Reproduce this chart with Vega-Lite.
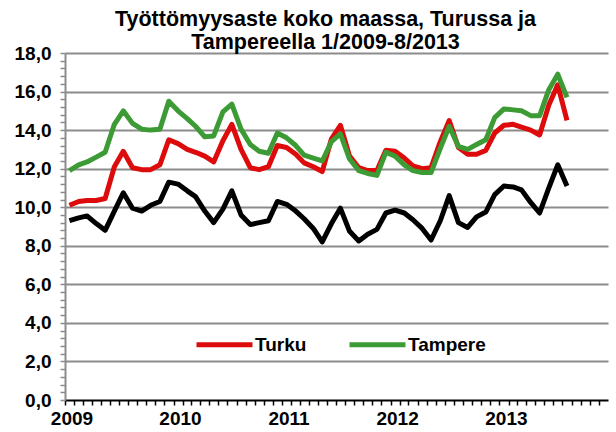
{
  "$schema": "https://vega.github.io/schema/vega-lite/v6.json",
  "width": 543,
  "height": 347,
  "autosize": "none",
  "padding": {"left": 65, "top": 53, "right": 8, "bottom": 32},
  "background": "white",
  "title": {
    "text": ["Työttömyysaste koko maassa, Turussa ja", "Tampereella 1/2009-8/2013"],
    "font": "Liberation Sans",
    "fontSize": 21.5,
    "fontWeight": "bold",
    "color": "black",
    "anchor": "middle",
    "frame": "group",
    "dx": -11,
    "offset": -9,
    "lineHeight": 23
  },
  "data": {
    "values": [
      {"kuukausi": "2009-01", "Koko maa": 9.3, "Turku": 10.1, "Tampere": 11.9},
      {"kuukausi": "2009-02", "Koko maa": 9.45, "Turku": 10.3, "Tampere": 12.2},
      {"kuukausi": "2009-03", "Koko maa": 9.55, "Turku": 10.35, "Tampere": 12.35},
      {"kuukausi": "2009-04", "Koko maa": 9.15, "Turku": 10.35, "Tampere": 12.6},
      {"kuukausi": "2009-05", "Koko maa": 8.8, "Turku": 10.45, "Tampere": 12.85},
      {"kuukausi": "2009-06", "Koko maa": 9.8, "Turku": 12.1, "Tampere": 14.3},
      {"kuukausi": "2009-07", "Koko maa": 10.75, "Turku": 12.9, "Tampere": 15.0},
      {"kuukausi": "2009-08", "Koko maa": 9.95, "Turku": 12.05, "Tampere": 14.35},
      {"kuukausi": "2009-09", "Koko maa": 9.8, "Turku": 11.95, "Tampere": 14.05},
      {"kuukausi": "2009-10", "Koko maa": 10.1, "Turku": 11.95, "Tampere": 14.0},
      {"kuukausi": "2009-11", "Koko maa": 10.3, "Turku": 12.2, "Tampere": 14.05},
      {"kuukausi": "2009-12", "Koko maa": 11.3, "Turku": 13.5, "Tampere": 15.5},
      {"kuukausi": "2010-01", "Koko maa": 11.2, "Turku": 13.3, "Tampere": 15.0},
      {"kuukausi": "2010-02", "Koko maa": 10.85, "Turku": 13.0, "Tampere": 14.6},
      {"kuukausi": "2010-03", "Koko maa": 10.55, "Turku": 12.85, "Tampere": 14.2},
      {"kuukausi": "2010-04", "Koko maa": 9.8, "Turku": 12.65, "Tampere": 13.65},
      {"kuukausi": "2010-05", "Koko maa": 9.2, "Turku": 12.35, "Tampere": 13.7},
      {"kuukausi": "2010-06", "Koko maa": 9.9, "Turku": 13.45, "Tampere": 14.95},
      {"kuukausi": "2010-07", "Koko maa": 10.85, "Turku": 14.3, "Tampere": 15.35},
      {"kuukausi": "2010-08", "Koko maa": 9.6, "Turku": 13.0, "Tampere": 14.05},
      {"kuukausi": "2010-09", "Koko maa": 9.1, "Turku": 12.05, "Tampere": 13.25},
      {"kuukausi": "2010-10", "Koko maa": 9.2, "Turku": 11.95, "Tampere": 12.9},
      {"kuukausi": "2010-11", "Koko maa": 9.3, "Turku": 12.1, "Tampere": 12.8},
      {"kuukausi": "2010-12", "Koko maa": 10.3, "Turku": 13.2, "Tampere": 13.85},
      {"kuukausi": "2011-01", "Koko maa": 10.15, "Turku": 13.1, "Tampere": 13.6},
      {"kuukausi": "2011-02", "Koko maa": 9.8, "Turku": 12.75, "Tampere": 13.2},
      {"kuukausi": "2011-03", "Koko maa": 9.4, "Turku": 12.3, "Tampere": 12.7},
      {"kuukausi": "2011-04", "Koko maa": 8.9, "Turku": 12.1, "Tampere": 12.55},
      {"kuukausi": "2011-05", "Koko maa": 8.2, "Turku": 11.85, "Tampere": 12.4},
      {"kuukausi": "2011-06", "Koko maa": 9.15, "Turku": 13.55, "Tampere": 13.4},
      {"kuukausi": "2011-07", "Koko maa": 9.95, "Turku": 14.25, "Tampere": 13.8},
      {"kuukausi": "2011-08", "Koko maa": 8.75, "Turku": 12.65, "Tampere": 12.5},
      {"kuukausi": "2011-09", "Koko maa": 8.25, "Turku": 12.05, "Tampere": 11.9},
      {"kuukausi": "2011-10", "Koko maa": 8.6, "Turku": 11.9, "Tampere": 11.75},
      {"kuukausi": "2011-11", "Koko maa": 8.85, "Turku": 11.9, "Tampere": 11.65},
      {"kuukausi": "2011-12", "Koko maa": 9.7, "Turku": 12.95, "Tampere": 12.85},
      {"kuukausi": "2012-01", "Koko maa": 9.85, "Turku": 12.9, "Tampere": 12.65},
      {"kuukausi": "2012-02", "Koko maa": 9.7, "Turku": 12.55, "Tampere": 12.2},
      {"kuukausi": "2012-03", "Koko maa": 9.35, "Turku": 12.15, "Tampere": 11.9},
      {"kuukausi": "2012-04", "Koko maa": 8.9, "Turku": 12.0, "Tampere": 11.8},
      {"kuukausi": "2012-05", "Koko maa": 8.3, "Turku": 12.05, "Tampere": 11.8},
      {"kuukausi": "2012-06", "Koko maa": 9.3, "Turku": 13.4, "Tampere": 13.05},
      {"kuukausi": "2012-07", "Koko maa": 10.6, "Turku": 14.5, "Tampere": 14.2},
      {"kuukausi": "2012-08", "Koko maa": 9.2, "Turku": 13.1, "Tampere": 13.15},
      {"kuukausi": "2012-09", "Koko maa": 8.95, "Turku": 12.75, "Tampere": 13.0},
      {"kuukausi": "2012-10", "Koko maa": 9.5, "Turku": 12.75, "Tampere": 13.25},
      {"kuukausi": "2012-11", "Koko maa": 9.75, "Turku": 12.95, "Tampere": 13.5},
      {"kuukausi": "2012-12", "Koko maa": 10.65, "Turku": 13.85, "Tampere": 14.65},
      {"kuukausi": "2013-01", "Koko maa": 11.1, "Turku": 14.25, "Tampere": 15.1},
      {"kuukausi": "2013-02", "Koko maa": 11.05, "Turku": 14.3, "Tampere": 15.05},
      {"kuukausi": "2013-03", "Koko maa": 10.9, "Turku": 14.15, "Tampere": 15.0},
      {"kuukausi": "2013-04", "Koko maa": 10.25, "Turku": 14.0, "Tampere": 14.75},
      {"kuukausi": "2013-05", "Koko maa": 9.7, "Turku": 13.75, "Tampere": 14.75},
      {"kuukausi": "2013-06", "Koko maa": 11.0, "Turku": 15.3, "Tampere": 16.1},
      {"kuukausi": "2013-07", "Koko maa": 12.2, "Turku": 16.35, "Tampere": 16.9},
      {"kuukausi": "2013-08", "Koko maa": 11.1, "Turku": 14.5, "Tampere": 15.7}
    ],
    "format": {"parse": {"kuukausi": "date:'%Y-%m'"}}
  },
  "transform": [
    {"fold": ["Koko maa", "Turku", "Tampere"], "as": ["sarja", "arvo"]}
  ],
  "encoding": {
    "x": {
      "field": "kuukausi",
      "type": "temporal",
      "title": null,
      "scale": {
        "domain": [{"year": 2008, "month": 12, "date": 17}, {"year": 2013, "month": 12, "date": 17}],
        "nice": false
      },
      "axis": {
        "tickCount": {"interval": "month", "step": 1},
        "tickOffset": -4.5,
        "labelOffset": 6.5,
        "labelExpr": "month(datum.value) == 0 ? timeFormat(datum.value, '%Y') : ''",
        "labelOverlap": false,
        "labelFlush": false,
        "labelBound": false,
        "labelFont": "Liberation Sans",
        "labelFontSize": 19,
        "labelFontWeight": "bold",
        "labelColor": "black",
        "labelPadding": 4,
        "domainColor": "black",
        "domainWidth": 2,
        "tickColor": "black",
        "tickWidth": 1.5,
        "tickSize": 5,
        "grid": false
      }
    },
    "y": {
      "field": "arvo",
      "type": "quantitative",
      "title": null,
      "scale": {"domain": [0, 18], "nice": false, "zero": true},
      "axis": {
        "values": [0, 0.4, 0.8, 1.2, 1.6, 2, 2.4, 2.8, 3.2, 3.6, 4, 4.4, 4.8, 5.2, 5.6, 6, 6.4, 6.8, 7.2, 7.6, 8, 8.4, 8.8, 9.2, 9.6, 10, 10.4, 10.8, 11.2, 11.6, 12, 12.4, 12.8, 13.2, 13.6, 14, 14.4, 14.8, 15.2, 15.6, 16, 16.4, 16.8, 17.2, 17.6, 18],
        "labelExpr": "abs(datum.value / 2 - round(datum.value / 2)) < 0.01 ? replace(format(datum.value, '.1f'), '.', ',') : ''",
        "labelOverlap": false,
        "labelFont": "Liberation Sans",
        "labelFontSize": 19,
        "labelFontWeight": "bold",
        "labelColor": "black",
        "labelPadding": 9,
        "domainColor": "#8c8c8c",
        "domainWidth": 2,
        "tickColor": "#8c8c8c",
        "tickWidth": 1.5,
        "tickSize": 5,
        "grid": true,
        "gridColor": "#8c8c8c",
        "gridWidth": 2,
        "gridOpacity": {"condition": {"test": "abs(datum.value / 2 - round(datum.value / 2)) < 0.01 && datum.value > 0", "value": 1}, "value": 0}
      }
    }
  },
  "layer": [
    {
      "transform": [{"filter": "datum.sarja === 'Koko maa'"}],
      "mark": {"type": "line", "color": "black", "strokeWidth": 5, "strokeJoin": "round"}
    },
    {
      "transform": [{"filter": "datum.sarja === 'Turku'"}],
      "mark": {"type": "line", "strokeWidth": 5, "strokeJoin": "round"},
      "encoding": {
        "color": {
          "field": "sarja",
          "type": "nominal",
          "scale": {"domain": ["Turku", "Tampere"], "range": ["#DD0B0B", "#3C9B34"]},
          "legend": {
            "title": null,
            "orient": "none",
            "direction": "horizontal",
            "legendX": 129,
            "legendY": 261,
            "symbolType": "stroke",
            "symbolSize": 3136,
            "symbolStrokeWidth": 5,
            "labelOffset": 0,
            "columnPadding": 32,
            "labelFont": "Liberation Sans",
            "labelFontSize": 19,
            "labelFontWeight": "bold",
            "labelColor": "black"
          }
        }
      }
    },
    {
      "transform": [{"filter": "datum.sarja === 'Tampere'"}],
      "mark": {"type": "line", "strokeWidth": 5, "strokeJoin": "round"},
      "encoding": {
        "color": {"field": "sarja", "type": "nominal"}
      }
    }
  ],
  "config": {
    "view": {"stroke": null}
  }
}
